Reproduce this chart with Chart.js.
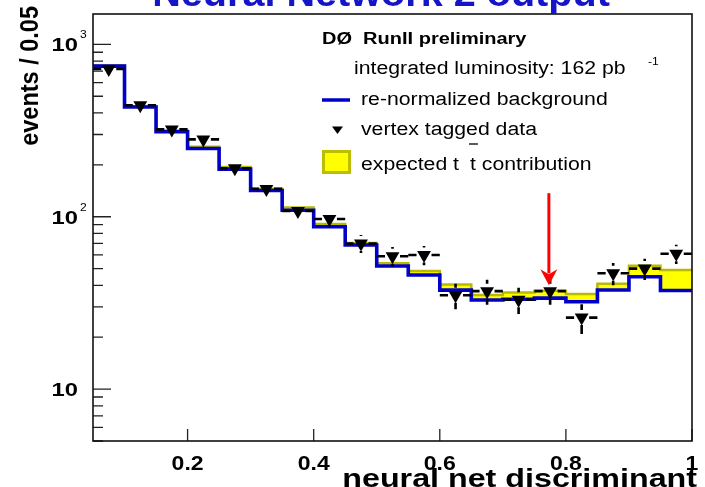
<!DOCTYPE html>
<html>
<head>
<meta charset="utf-8">
<script src="https://cdn.jsdelivr.net/npm/chart.js@4.4.1/dist/chart.umd.min.js"></script>
<style>
  html, body { margin: 0; padding: 0; background: #fff; }
  #wrap { width: 705px; height: 487px; position: relative; }
</style>
</head>
<body>
<div id="wrap"><canvas id="c" width="705" height="487"></canvas></div>
<script>
// Histogram bin edges of the neural-net discriminant (bin width 0.05)
const binEdges = [0.05, 0.10, 0.15, 0.20, 0.25, 0.30, 0.35, 0.40, 0.45, 0.50,
                  0.55, 0.60, 0.65, 0.70, 0.75, 0.80, 0.85, 0.90, 0.95, 1.00];
// Re-normalized background, events per bin
const background = [748, 433, 311, 249, 189, 142, 109, 87.5, 68.5, 51.8,
                    45.9, 37.5, 32.9, 33.2, 33.7, 32.1, 37.6, 44.9, 37.3];
// Expected t-tbar contribution, stacked on top of the background
const ttbar = [6, 5, 5, 6, 5, 3.5, 4, 3.2, 2, 1.9,
               2.5, 3, 2.3, 3.1, 3.5, 3.5, 3.2, 7.1, 11.8];
// Vertex tagged data and statistical errors
const dataCounts = [720, 443, 321, 281, 191, 145, 108, 97, 70, 59,
                    60, 35, 37, 33, 37, 26, 47, 50, 61];
const dataErrors = [27, 21, 18, 17, 14, 12, 10.4, 9.8, 8.4, 7.7,
                    7.7, 5.9, 6.1, 5.7, 6.1, 5.1, 6.9, 7.1, 7.8];
// Axis ticks
const xTickValues = [0.2, 0.4, 0.6, 0.8, 1.0];
const xTickLabels = ['0.2', '0.4', '0.6', '0.8', '1'];
const yMajorValues = [10, 100, 1000];
const yMajorMantissa = ['10', '10', '10'];
const yMajorExponent = ['', '2', '3'];
const yMinorValues = [5, 6, 7, 8, 9, 20, 30, 40, 50, 60, 70, 80, 90,
                      200, 300, 400, 500, 600, 700, 800, 900];
// Selection cut marker
const cutValue = 0.773;
const cutArrowFrom = 137;
const cutArrowTo = 40;

const FONT = '"Liberation Sans", Arial, Helvetica, sans-serif';

// Step-histogram points: one point per lower bin edge, plus the last upper edge
function stepPoints(values) {
  const pts = values.map((v, i) => ({ x: binEdges[i], y: v }));
  pts.push({ x: binEdges[binEdges.length - 1], y: values[values.length - 1] });
  return pts;
}
const stackedTop = background.map((b, i) => b + ttbar[i]);
const dataPoints = dataCounts.map((v, i) => ({ x: (binEdges[i] + binEdges[i + 1]) / 2, y: v }));

function drawText(ctx, s, x, y, font, align, sx, color) {
  ctx.save();
  ctx.font = font;
  ctx.fillStyle = color || '#000';
  ctx.textBaseline = 'alphabetic';
  ctx.textAlign = 'left';
  const w = ctx.measureText(s).width * sx;
  const x0 = align === 'right' ? x - w : (align === 'center' ? x - w / 2 : x);
  ctx.translate(x0, y);
  ctx.scale(sx, 1);
  ctx.fillText(s, 0, 0);
  ctx.restore();
  return w;
}

// Error bars with a gap around the marker
const errorBars = {
  id: 'errorBars',
  afterDatasetsDraw(chart) {
    const { ctx, scales: { x, y } } = chart;
    const gap = 7.5;
    ctx.save();
    ctx.strokeStyle = '#000';
    ctx.lineWidth = 2.6;
    dataCounts.forEach((v, i) => {
      const cx = x.getPixelForValue((binEdges[i] + binEdges[i + 1]) / 2);
      const cy = y.getPixelForValue(v);
      const xl = x.getPixelForValue(binEdges[i]);
      const xr = x.getPixelForValue(binEdges[i + 1]);
      const yt = y.getPixelForValue(v + dataErrors[i]);
      const yb = y.getPixelForValue(v - dataErrors[i]);
      ctx.beginPath();
      ctx.moveTo(xl, cy); ctx.lineTo(cx - gap, cy);
      ctx.moveTo(cx + gap, cy); ctx.lineTo(xr, cy);
      if (yt < cy - gap) { ctx.moveTo(cx, yt); ctx.lineTo(cx, cy - gap); }
      if (yb > cy + gap) { ctx.moveTo(cx, cy + gap); ctx.lineTo(cx, yb); }
      ctx.stroke();
    });
    ctx.restore();
  }
};

// Frame, inward ticks, tick labels, axis titles, legend, cut arrow
const decorations = {
  id: 'decorations',
  afterDraw(chart) {
    const { ctx, chartArea: a, scales: { x, y } } = chart;
    ctx.save();

    // cut arrow
    const ax = x.getPixelForValue(cutValue);
    const ay0 = y.getPixelForValue(cutArrowFrom);
    const ay1 = y.getPixelForValue(cutArrowTo);
    ctx.strokeStyle = '#ff0000';
    ctx.fillStyle = '#ff0000';
    ctx.lineWidth = 3;
    ctx.beginPath(); ctx.moveTo(ax, ay0); ctx.lineTo(ax, ay1 - 12); ctx.stroke();
    ctx.beginPath();
    ctx.moveTo(ax - 8.5, ay1 - 16);
    ctx.lineTo(ax, ay1 - 11);
    ctx.lineTo(ax + 8.5, ay1 - 16);
    ctx.lineTo(ax, ay1);
    ctx.closePath(); ctx.fill();

    // ticks
    ctx.strokeStyle = '#222';
    ctx.lineWidth = 1.3;
    ctx.beginPath();
    yMajorValues.forEach(v => { const py = y.getPixelForValue(v); ctx.moveTo(a.left, py); ctx.lineTo(a.left + 18, py); });
    yMinorValues.forEach(v => { const py = y.getPixelForValue(v); ctx.moveTo(a.left, py); ctx.lineTo(a.left + 10, py); });
    xTickValues.forEach(v => { const px = x.getPixelForValue(v); ctx.moveTo(px, a.bottom); ctx.lineTo(px, a.bottom - 12); });
    ctx.stroke();

    // frame
    ctx.strokeStyle = '#111';
    ctx.lineWidth = 1.6;
    ctx.strokeRect(a.left, a.top, a.right - a.left, a.bottom - a.top);

    // x tick labels
    xTickValues.forEach((v, i) => {
      drawText(ctx, xTickLabels[i], x.getPixelForValue(v), 470, 'bold 20px ' + FONT, 'center', 1.15, '#000');
    });
    // y tick labels
    yMajorValues.forEach((v, i) => {
      const py = y.getPixelForValue(v);
      drawText(ctx, yMajorMantissa[i], 78, py + 7, 'bold 19px ' + FONT, 'right', 1.25, '#000');
      if (yMajorExponent[i]) drawText(ctx, yMajorExponent[i], 80, py - 6, '11px ' + FONT, 'left', 1.1, '#000');
    });

    // axis titles
    drawText(ctx, 'neural net discriminant', 697, 487, 'bold 26px ' + FONT, 'right', 1.24, '#000');
    ctx.save();
    ctx.translate(38, 6);
    ctx.rotate(-Math.PI / 2);
    ctx.scale(1, 1.1);
    ctx.font = 'bold 23.5px ' + FONT;
    ctx.fillStyle = '#000';
    ctx.textAlign = 'right';
    ctx.fillText('events / 0.05', 0, 0);
    ctx.restore();

    // plot title (top of the canvas)
    drawText(ctx, 'Neural Network 2 output', 381, 6, 'bold 36px ' + FONT, 'center', 1.1, '#1414c8');

    // legend
    drawText(ctx, 'D\u00D8  RunII preliminary', 322, 44, 'bold 16px ' + FONT, 'left', 1.25, '#000');
    drawText(ctx, 'integrated luminosity: 162 pb', 354, 74, '18px ' + FONT, 'left', 1.18, '#000');
    drawText(ctx, '-1', 648, 65, '11px ' + FONT, 'left', 1.1, '#000');

    ctx.strokeStyle = '#0000c8';
    ctx.lineWidth = 3.5;
    ctx.beginPath(); ctx.moveTo(322, 100); ctx.lineTo(350, 100); ctx.stroke();
    drawText(ctx, 're-normalized background', 361, 105, '18px ' + FONT, 'left', 1.18, '#000');

    ctx.fillStyle = '#000';
    ctx.beginPath(); ctx.moveTo(332, 126.5); ctx.lineTo(343, 126.5); ctx.lineTo(337.5, 134); ctx.closePath(); ctx.fill();
    drawText(ctx, 'vertex tagged data', 361, 135, '18px ' + FONT, 'left', 1.18, '#000');

    ctx.fillStyle = '#ffff00';
    ctx.fillRect(323.5, 151.5, 26, 21);
    ctx.strokeStyle = '#bebe00';
    ctx.lineWidth = 3;
    ctx.strokeRect(323.5, 151.5, 26, 21);
    const w1 = drawText(ctx, 'expected t', 361, 170, '18px ' + FONT, 'left', 1.18, '#000');
    const tx = 361 + w1 + 11;
    const wt = drawText(ctx, 't', tx, 170, '18px ' + FONT, 'left', 1.18, '#000');
    ctx.strokeStyle = '#000';
    ctx.lineWidth = 1.3;
    ctx.beginPath(); ctx.moveTo(tx - 1, 144); ctx.lineTo(tx + wt + 2, 144); ctx.stroke();
    drawText(ctx, ' contribution', tx + wt, 170, '18px ' + FONT, 'left', 1.18, '#000');

    ctx.restore();
  }
};

new Chart(document.getElementById('c'), {
  type: 'line',
  data: {
    datasets: [
      {
        label: 'vertex tagged data',
        data: dataPoints,
        showLine: false,
        pointStyle: 'triangle',
        rotation: 180,
        pointRadius: 8,
        pointBackgroundColor: '#000',
        pointBorderColor: '#000',
        pointBorderWidth: 0
      },
      {
        label: 're-normalized background',
        data: stepPoints(background),
        stepped: 'before',
        borderColor: '#0000c8',
        borderWidth: 3.6,
        pointRadius: 0,
        fill: false
      },
      {
        label: 'expected t tbar contribution',
        data: stepPoints(stackedTop),
        stepped: 'before',
        borderColor: '#b9b900',
        borderWidth: 2.5,
        backgroundColor: '#ffff00',
        pointRadius: 0,
        fill: { target: 1 }
      }
    ]
  },
  options: {
    responsive: false,
    animation: false,
    devicePixelRatio: 1,
    layout: { padding: { left: 93, right: 13, top: 14, bottom: 46 } },
    plugins: { legend: { display: false }, tooltip: { enabled: false }, title: { display: false } },
    scales: {
      x: { type: 'linear', min: 0.05, max: 1.0, display: false },
      y: { type: 'logarithmic', min: 5, max: 1500, display: false }
    }
  },
  plugins: [errorBars, decorations]
});
</script>
</body>
</html>
